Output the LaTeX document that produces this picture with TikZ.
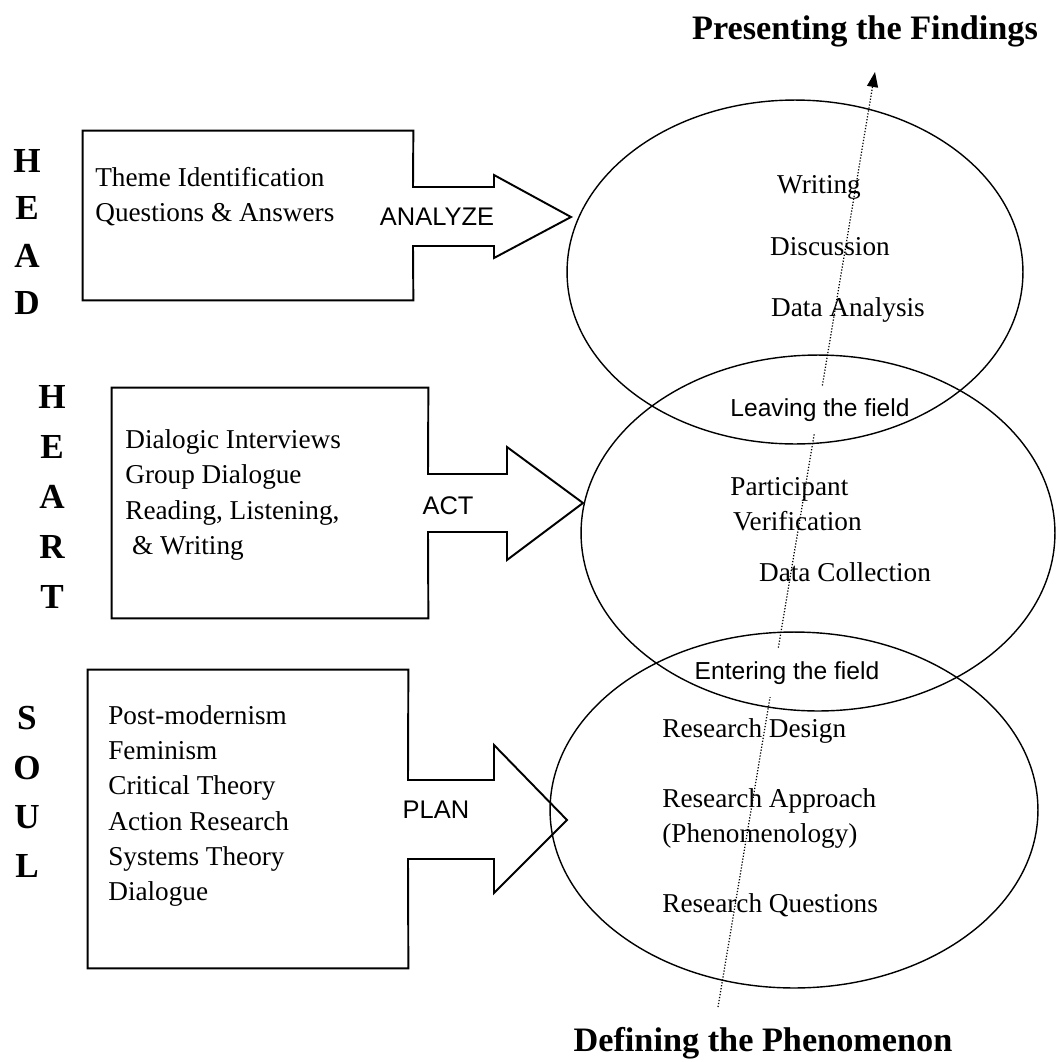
\documentclass[tikz,border=0pt]{standalone}
\usepackage{fontspec}
\setmainfont{Liberation Serif}
\setsansfont{Liberation Sans}
\usetikzlibrary{shapes.geometric,fit,arrows.meta}

\begin{document}
\begin{tikzpicture}[x=0.02cm,y=-0.02cm,
  outline/.style={draw,line width=1.1pt,line join=miter},
  phase/.style={draw,ellipse,line width=0.8pt,inner sep=0pt},
  items/.style={align=left,anchor=west,inner sep=0pt,font=\fontsize{15.5}{20}\selectfont},
  stage/.style={inner sep=0pt,font=\fontsize{15.5}{20}\selectfont},
  verb/.style={inner sep=0pt,font=\sffamily\fontsize{14.5}{17}\selectfont},
  field/.style={fill=white,inner xsep=2pt,inner ysep=7pt,font=\sffamily\fontsize{14}{17}\selectfont},
  letters/.style={align=center,inner sep=0pt},
  title/.style={inner sep=0pt,font=\bfseries\fontsize{19.5}{23}\selectfont}]
\useasboundingbox (0,0) rectangle (1061,1062);

% titles and the path through the phases
\node[title] (findings) at (865,31) {Presenting the Findings};
\node[title] (phenomenon) at (763,1043) {Defining the Phenomenon};
\coordinate (pathstart) at (718,1007);
\coordinate (pathend) at (875,72);
\draw[densely dotted,line width=0.7pt,-{Triangle[length=0.3cm,width=0.22cm]}] (pathstart) -- (pathend);

% HEAD / HEART / SOUL
\node[letters,font=\bfseries\fontsize{20}{27}\selectfont] (head) at (27,232) {H\\E\\A\\D};
\node[letters,font=\bfseries\fontsize{20}{28.5}\selectfont] (heart) at (52,497) {H\\E\\A\\R\\T};
\node[letters,font=\bfseries\fontsize{20}{28}\selectfont] (soul) at (27,792) {S\\O\\U\\L};

% boxes with their arrows
\node[fit={(83,131) (413,300)},inner sep=0pt] (headbox) {};
\coordinate (headtip) at (571,217);
\draw[outline] (headbox.north west) -- (headbox.north east) -- (413,187) -- (494,187) -- (494,175)
  -- (headtip) -- (494,258) -- (494,246) -- (413,246) -- (headbox.south east) -- (headbox.south west) -- cycle;
\node[items] (headitems) at (95,197) {Theme Identification\\Questions \& Answers};
\node[verb] (analyze) at (437,217) {ANALYZE};

\node[fit={(112,388) (428,618)},inner sep=0pt] (heartbox) {};
\coordinate (hearttip) at (583,503);
\draw[outline] (heartbox.north west) -- (heartbox.north east) -- (428,474) -- (507,474) -- (507,447)
  -- (hearttip) -- (507,560) -- (507,532) -- (428,532) -- (heartbox.south east) -- (heartbox.south west) -- cycle;
\node[items] (heartitems) at (125,495) {Dialogic Interviews\\Group Dialogue\\Reading, Listening,\\\hspace{0.25em}\& Writing};
\node[verb] (act) at (448,506) {ACT};

\node[fit={(88,670) (408,968)},inner sep=0pt] (soulbox) {};
\coordinate (soultip) at (567,820);
\draw[outline] (soulbox.north west) -- (soulbox.north east) -- (408,780) -- (494,780) -- (494,745)
  -- (soultip) -- (494,893) -- (494,859) -- (408,859) -- (soulbox.south east) -- (soulbox.south west) -- cycle;
\node[items] (soulitems) at (108,806) {Post-modernism\\Feminism\\Critical Theory\\Action Research\\Systems Theory\\Dialogue};
\node[verb] (plan) at (436,810) {PLAN};

% crossing points
\node[field] (leaving) at (820,410) {Leaving the field};
\node[field] (entering) at (787,673) {Entering the field};

% phases
\node[phase,minimum width=9.12cm,minimum height=6.88cm] (analysis) at (795,272) {};
\node[phase,minimum width=9.48cm,minimum height=7.12cm] (fieldwork) at (818,533) {};
\node[phase,minimum width=9.76cm,minimum height=7.12cm] (design) at (794,810) {};

\node[stage] (writing) at (819,187) {Writing};
\node[stage] (discussion) at (830,247) {Discussion};
\node[stage] (dataanalysis) at (848,310) {Data Analysis};
\node[stage,align=left,anchor=west] (verification) at (730,504) {Participant\\\hspace{0.1em}Verification};
\node[stage] (datacollection) at (845,572) {Data Collection};
\node[stage,align=left,anchor=north west] (designitems) at (662,718) {Research Design\\[20pt]Research Approach\\(Phenomenology)\\[20pt]Research Questions};
\end{tikzpicture}
\end{document}
